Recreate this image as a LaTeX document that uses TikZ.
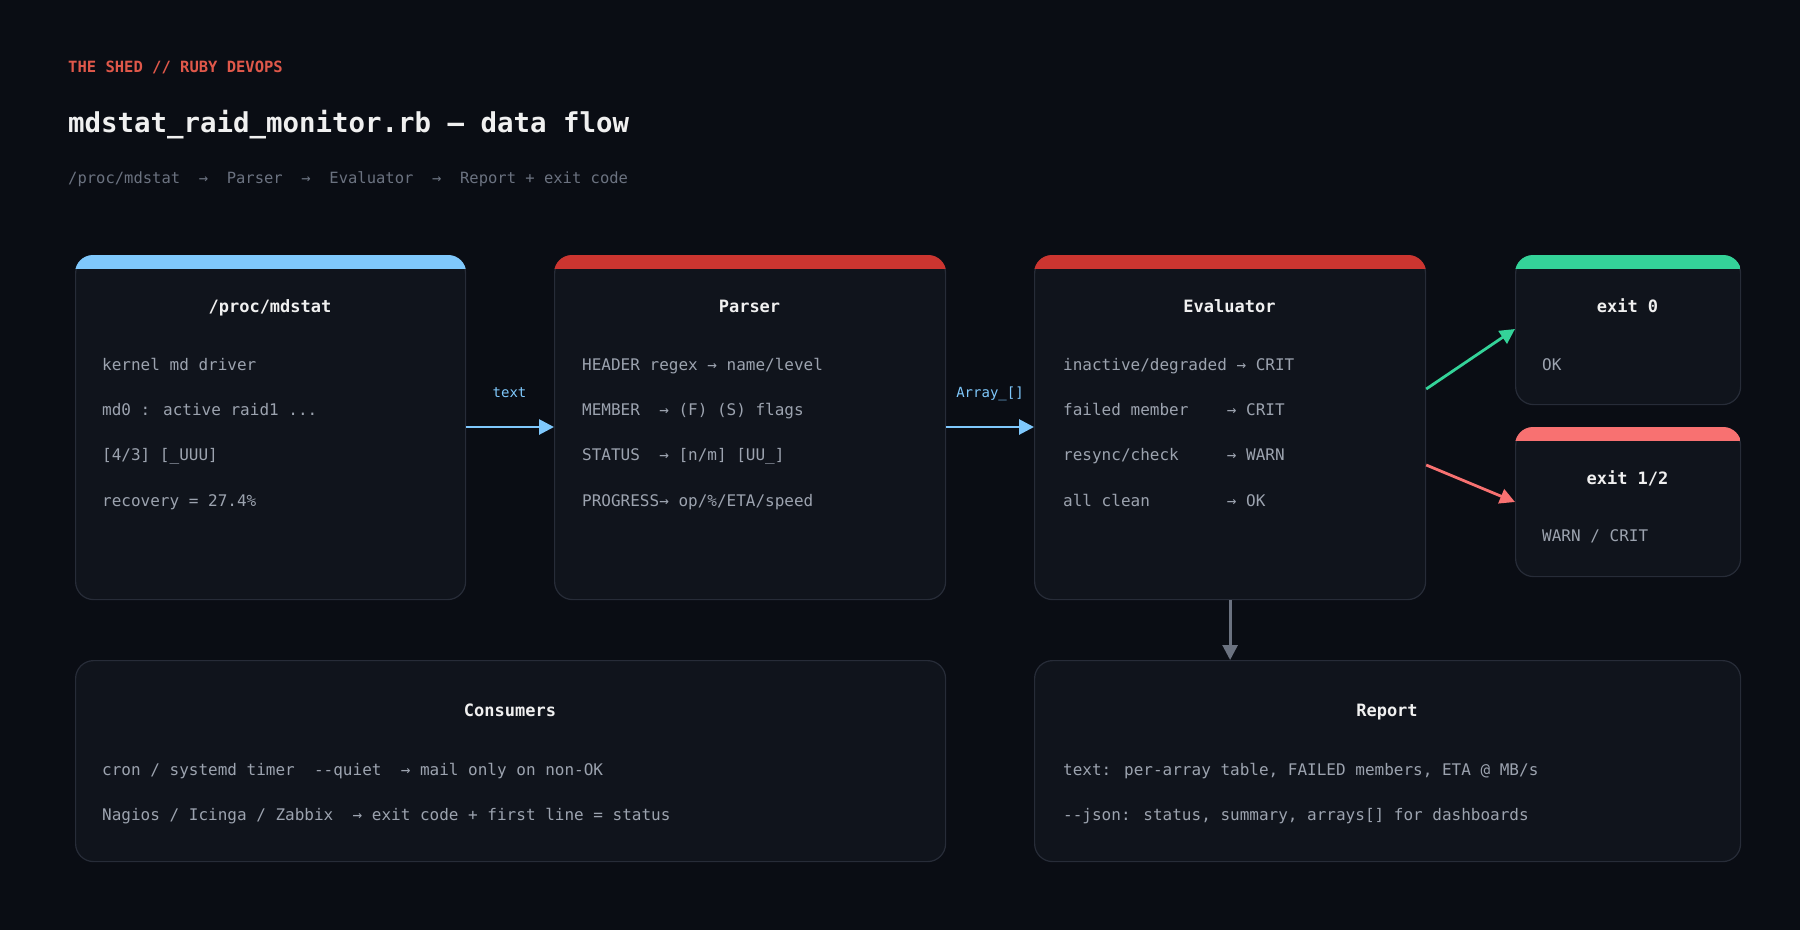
\documentclass[tikz,border=0pt]{standalone}
\usepackage{fontspec}
\setmainfont{DejaVu Sans Mono}
\usetikzlibrary{arrows.meta}
\definecolor{bg}{HTML}{0A0D14}
\definecolor{boxfill}{HTML}{10141C}
\definecolor{boxline}{HTML}{272C38}
\definecolor{cblue}{HTML}{7FC8FC}
\definecolor{cred}{HTML}{CC3530}
\definecolor{cgreen}{HTML}{34D399}
\definecolor{csalmon}{HTML}{F87171}
\definecolor{ttl}{HTML}{F0F0F0}
\definecolor{body}{HTML}{9CA3AF}
\definecolor{sub}{HTML}{6B7280}
\definecolor{hdr}{HTML}{E0584A}
\tikzset{
  box/.style={draw=boxline, line width=1.2pt, fill=boxfill, rounded corners=18pt, anchor=north west, inner sep=0},
  btitle/.style={text=ttl, font=\fontsize{17}{20}\selectfont\bfseries, anchor=center, text height=12pt, text depth=3pt},
  bline/.style={text=body, font=\fontsize{16}{19}\selectfont, anchor=west, inner sep=0, text height=12pt, text depth=3pt},
  elabel/.style={text=cblue, font=\fontsize{14}{16}\selectfont, anchor=center, text height=10pt, text depth=3pt},
  flow/.style={line width=2.8pt, -{Triangle[length=15pt,width=15pt]}},
}
\newcommand{\topbar}[2]{%
  \begin{scope}
    \clip[rounded corners=18pt] (#1.north west) rectangle (#1.south east);
    \fill[#2] (#1.north west) rectangle ([yshift=-14pt]#1.north east);
  \end{scope}}
\begin{document}
\begin{tikzpicture}[x=1pt,y=-1pt]
\fill[bg] (0,0) rectangle (1800,930);
\useasboundingbox (0,0) rectangle (1800,930);

\node[text=hdr, font=\fontsize{15.5}{18}\selectfont\bfseries, anchor=west, inner sep=0] (hd) at (68,67) {THE SHED // RUBY DEVOPS};
\node[text=ttl, font=\fontsize{27.4}{32}\selectfont\bfseries, anchor=west, inner sep=0] (tt) at (68,125) {mdstat\_raid\_monitor.rb — data flow};
\node[text=sub, font=\fontsize{15.5}{18}\selectfont, anchor=west, inner sep=0] (st) at (68,179) {/proc/mdstat~~→~~Parser~~→~~Evaluator~~→~~Report + exit code};

% boxes
\node[box, minimum width=390pt, minimum height=344pt] (src) at (75,255) {};
\node[box, minimum width=391pt, minimum height=344pt] (par) at (554,255) {};
\node[box, minimum width=391pt, minimum height=344pt] (ev) at (1034,255) {};
\node[box, minimum width=225pt, minimum height=149pt] (ok) at (1515,255) {};
\node[box, minimum width=225pt, minimum height=149pt] (bad) at (1515,427) {};
\node[box, minimum width=870pt, minimum height=201pt] (con) at (75,660) {};
\node[box, minimum width=706pt, minimum height=201pt] (rep) at (1034,660) {};

\topbar{src}{cblue}
\topbar{par}{cred}
\topbar{ev}{cred}
\topbar{ok}{cgreen}
\topbar{bad}{csalmon}

% titles
\node[btitle] (srcT) at (270,308) {/proc/mdstat};
\node[btitle] (parT) at (749.5,308) {Parser};
\node[btitle] (evT) at (1229.5,308) {Evaluator};
\node[btitle] (okT) at (1627.5,308) {exit 0};
\node[btitle] (badT) at (1627.5,480) {exit 1/2};
\node[btitle] (conT) at (510,712) {Consumers};
\node[btitle] (repT) at (1387,712) {Report};

% source lines
\node[bline] (s1) at (102,366) {kernel md driver};
\node[bline] (s2) at (102,411) {md0 : active raid1 ...};
\node[bline] (s3) at (102,456) {[4/3] [\_UUU]};
\node[bline] (s4) at (102,502) {recovery = 27.4\%};
% parser lines
\node[bline] (p1) at (582,366) {HEADER regex → name/level};
\node[bline] (p2) at (582,411) {MEMBER~~→ (F) (S) flags};
\node[bline] (p3) at (582,456) {STATUS~~→ [n/m] [UU\_]};
\node[bline] (p4) at (582,502) {PROGRESS→ op/\%/ETA/speed};
% evaluator lines
\node[bline] (e1) at (1063,366) {inactive/degraded → CRIT};
\node[bline] (e2) at (1063,411) {failed member~~~~→ CRIT};
\node[bline] (e3) at (1063,456) {resync/check~~~~~→ WARN};
\node[bline] (e4) at (1063,502) {all clean~~~~~~~~→ OK};
% exits
\node[bline] (o1) at (1542,366) {OK};
\node[bline] (b1) at (1542,537) {WARN / CRIT};
% consumers
\node[bline] (c1) at (102,771) {cron / systemd timer~~-{}-quiet~~→ mail only on non-OK};
\node[bline] (c2) at (102,816) {Nagios / Icinga / Zabbix~~→ exit code + first line = status};
% report
\node[bline] (r1) at (1063,771) {text: per-array table, FAILED members, ETA @ MB/s};
\node[bline] (r2) at (1063,816) {-{}-json: status, summary, arrays[] for dashboards};

% connectors
\draw[flow, cblue] (src.east |- 0,427) -- (par.west |- 0,427);
\node[elabel] (l1) at (509.5,394) {text};
\draw[flow, cblue] (par.east |- 0,427) -- (ev.west |- 0,427);
\node[elabel] (l2) at (990,394) {Array\_[]};
\draw[flow, cgreen] (ev.east |- 0,389) -- (ok.west |- 0,329);
\draw[flow, csalmon] (ev.east |- 0,465) -- (bad.west |- 0,502);
\draw[flow, sub] (ev.south) -- (rep.north -| ev.south);
\end{tikzpicture}
\end{document}
